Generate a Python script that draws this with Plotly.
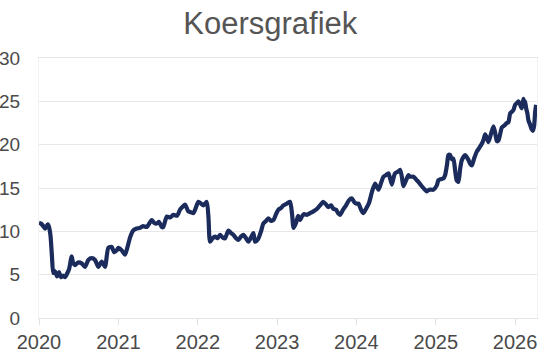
import pandas as pd
import plotly.graph_objects as go

# Decimal-year positions of the points
years = [
    0.000, 0.025, 0.054, 0.076, 0.110, 0.126, 0.145, 0.164, 0.180, 0.202, 0.227, 0.252, 0.277, 0.303,
    0.328, 0.353, 0.378, 0.412, 0.429, 0.454, 0.492, 0.538, 0.580, 0.622, 0.665, 0.706, 0.748, 0.791,
    0.832, 0.874, 0.917, 0.946, 0.980, 1.000, 1.043, 1.084, 1.116, 1.148, 1.189, 1.223, 1.274, 1.311,
    1.358, 1.421, 1.450, 1.484, 1.513, 1.547, 1.567, 1.610, 1.652, 1.694, 1.740, 1.778, 1.816, 1.841,
    1.883, 1.917, 1.946, 1.980, 2.009, 2.043, 2.072, 2.115, 2.137, 2.156, 2.188, 2.219, 2.251, 2.282,
    2.314, 2.345, 2.387, 2.421, 2.450, 2.484, 2.513, 2.547, 2.576, 2.610, 2.639, 2.673, 2.702, 2.724,
    2.762, 2.799, 2.828, 2.862, 2.891, 2.926, 2.955, 2.989, 3.018, 3.052, 3.081, 3.124, 3.165, 3.190,
    3.209, 3.241, 3.266, 3.291, 3.313, 3.342, 3.376, 3.417, 3.459, 3.506, 3.543, 3.581, 3.619, 3.648,
    3.682, 3.711, 3.745, 3.770, 3.796, 3.833, 3.871, 3.909, 3.943, 3.972, 3.997, 4.026, 4.060, 4.089,
    4.123, 4.161, 4.199, 4.237, 4.279, 4.313, 4.342, 4.376, 4.405, 4.426, 4.448, 4.470, 4.489, 4.527,
    4.552, 4.574, 4.594, 4.628, 4.657, 4.678, 4.720, 4.763, 4.783, 4.826, 4.855, 4.889, 4.918, 4.952,
    4.972, 5.015, 5.035, 5.057, 5.098, 5.120, 5.145, 5.161, 5.183, 5.204, 5.224, 5.246, 5.265, 5.287,
    5.309, 5.330, 5.372, 5.410, 5.435, 5.456, 5.485, 5.519, 5.548, 5.582, 5.605, 5.624, 5.646, 5.666,
    5.700, 5.729, 5.750, 5.772, 5.792, 5.813, 5.835, 5.864, 5.898, 5.918, 5.939, 5.961, 5.981, 6.002,
    6.024, 6.044, 6.066, 6.087, 6.107, 6.122, 6.128, 6.141, 6.157, 6.170, 6.191, 6.210, 6.226, 6.242,
    6.255, 6.267,
]

prices = [
    11.0, 10.9, 10.6, 10.3, 10.8, 10.5, 9.5, 7.0, 5.2, 5.4, 4.8, 5.3, 4.7, 4.9,
    4.7, 5.1, 5.6, 7.1, 6.4, 6.1, 6.4, 6.3, 5.9, 6.7, 6.9, 6.7, 5.9, 6.5,
    5.9, 8.1, 8.2, 7.6, 7.8, 8.1, 7.8, 7.3, 8.2, 9.3, 10.1, 10.3, 10.4, 10.6,
    10.5, 11.3, 11.0, 10.9, 11.1, 10.5, 10.5, 11.7, 11.6, 11.9, 11.8, 12.5, 12.9, 13.1,
    12.3, 12.2, 12.1, 12.8, 13.4, 13.2, 13.0, 13.4, 11.5, 8.8, 9.2, 9.4, 9.2, 9.6,
    9.3, 9.2, 10.1, 9.8, 9.6, 9.2, 9.0, 9.4, 9.6, 9.2, 8.8, 9.3, 9.8, 8.8,
    9.1, 10.0, 10.9, 11.2, 11.5, 11.2, 11.3, 12.0, 12.5, 12.7, 13.0, 13.2, 13.4, 12.0,
    10.4, 11.0, 11.8, 11.3, 11.7, 12.0, 11.9, 12.1, 12.3, 12.6, 13.0, 13.4, 13.1, 12.8,
    13.0, 12.6, 12.5, 12.1, 11.9, 12.5, 13.0, 13.6, 13.8, 13.4, 13.2, 13.2, 12.5, 12.1,
    12.6, 13.3, 14.6, 15.5, 14.8, 15.6, 16.3, 16.5, 16.7, 16.1, 15.4, 16.2, 16.7, 16.9,
    17.1, 16.3, 15.2, 15.9, 16.5, 16.3, 16.3, 15.9, 15.7, 15.2, 14.9, 14.6, 14.8, 14.8,
    14.8, 15.3, 15.9, 16.0, 16.1, 16.5, 17.8, 18.8, 18.8, 18.3, 18.4, 17.0, 15.9, 15.7,
    17.2, 18.2, 18.8, 18.3, 17.8, 17.6, 18.4, 19.2, 19.6, 20.1, 20.6, 21.2, 20.8, 20.3,
    21.3, 22.1, 21.4, 20.4, 20.5, 21.2, 22.0, 22.2, 22.5, 22.6, 23.6, 23.8, 24.0, 24.6,
    24.8, 25.0, 24.6, 24.2, 25.3, 24.6, 25.0, 24.2, 23.6, 22.8, 22.3, 21.8, 21.6, 22.2,
    23.8, 24.6,
]

start_year = 2020
tick_years = [2020, 2021, 2022, 2023, 2024, 2025, 2026]
y_ticks = [0, 5, 10, 15, 20, 25, 30]

dates = [pd.Timestamp(f"{start_year}-01-01") + pd.Timedelta(days=y * 365.25) for y in years]
tick_vals = [pd.Timestamp(f"{y}-01-01") for y in tick_years]
tick_text = [str(y) for y in tick_years]

fig = go.Figure()
fig.add_trace(go.Scatter(
    x=dates, y=prices, mode="lines",
    line=dict(color="#1b2c5c", width=4.2, shape="spline", smoothing=0.6),
    hoverinfo="skip", showlegend=False,
))

font = "Liberation Sans, Arial, sans-serif"
fig.update_layout(
    width=545, height=355,
    margin=dict(l=39, r=8, t=58, b=37, autoexpand=False),
    paper_bgcolor="white", plot_bgcolor="white",
    title=dict(text="Koersgrafiek", x=0.496, xref="container", xanchor="center",
               y=0.934, yref="container", yanchor="middle",
               font=dict(family=font, size=31, color="#555555")),
    font=dict(family=font, size=20, color="#4a4a4a"),
)
fig.update_xaxes(
    type="date", automargin=False,
    range=[pd.Timestamp("2020-01-01"), pd.Timestamp("2026-04-12")],
    tickvals=tick_vals, ticktext=tick_text,
    ticks="outside", ticklen=6, tickcolor="#e2e2e2", tickwidth=1,
    showgrid=False, showline=True, linecolor="#e6e6e6", linewidth=1, mirror=True,
    tickfont=dict(size=20, color="#4a4a4a"), zeroline=False,
)
fig.update_yaxes(
    automargin=False,
    range=[0, 30], tickvals=y_ticks,
    showgrid=True, gridcolor="#e8e8e8", gridwidth=1,
    showline=True, linecolor="#f2f2f2", linewidth=1, mirror=True,
    ticks="", ticklabelstandoff=14,
    tickfont=dict(size=19, color="#4a4a4a"), zeroline=False,
)

fig.write_html(
    "out.html",
    config={"displayModeBar": False, "staticPlot": True},
    post_script="document.body.style.margin='0';document.body.style.overflow='hidden';",
)
